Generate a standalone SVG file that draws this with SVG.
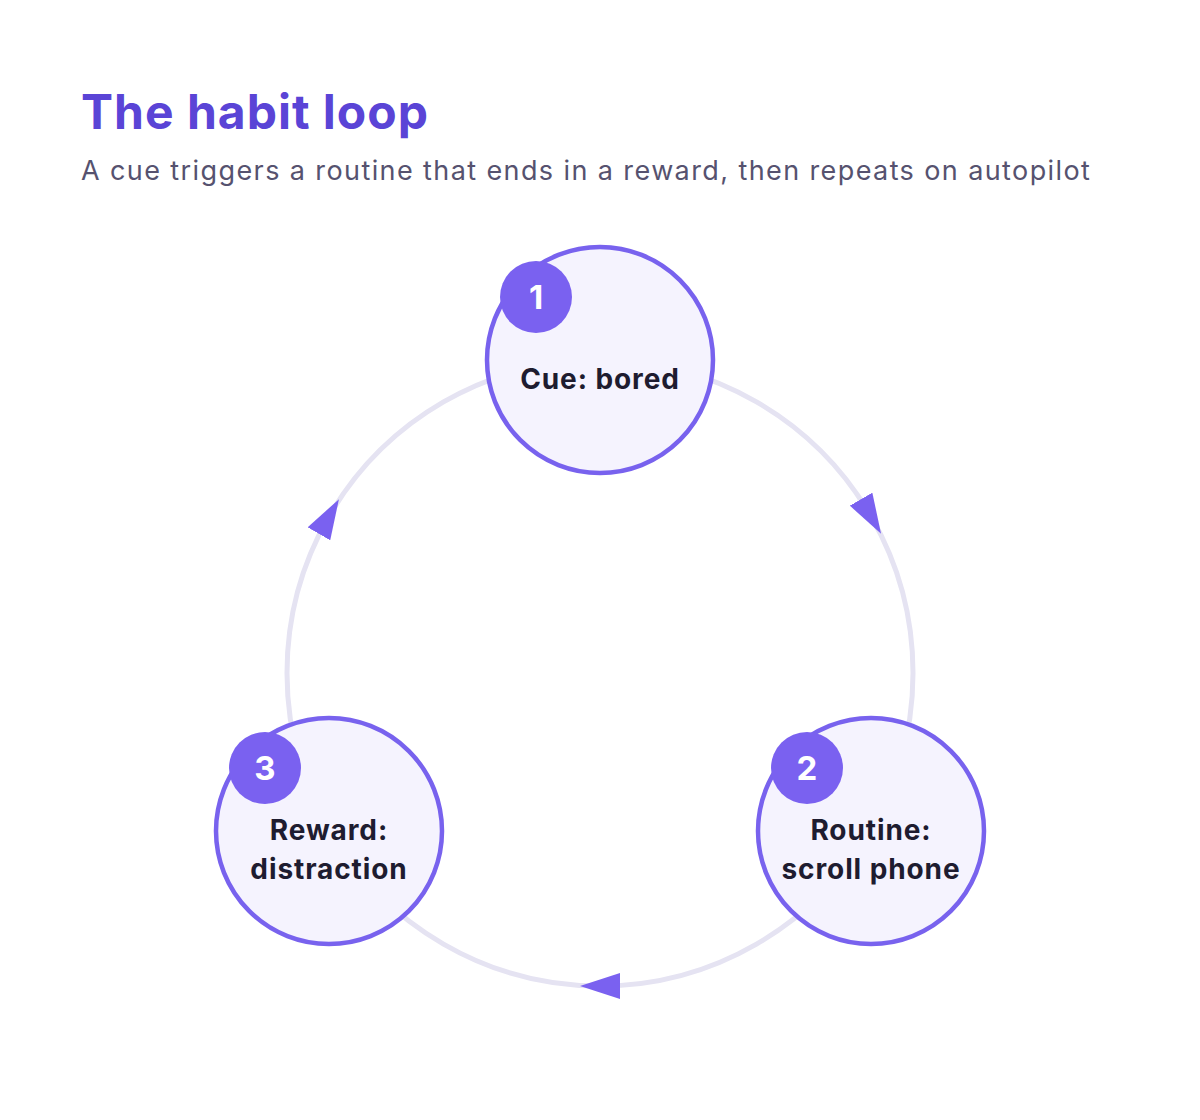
<svg xmlns="http://www.w3.org/2000/svg" width="1200" height="1120" viewBox="0 0 1200 1120">
<style>
.title{font-family:Inter,"Liberation Sans",sans-serif;font-weight:700;font-size:48px;letter-spacing:1px;fill:#5a44d6}
.sub{font-family:Inter,"Liberation Sans",sans-serif;font-weight:400;font-size:27px;letter-spacing:1.4px;fill:#56526f}
.ring{fill:none;stroke:#e5e3f2;stroke-width:5}
.node{fill:#f5f3fe;stroke:#7862ee;stroke-width:4.5}
.badge{fill:#7a61f0}
.num{font-family:Inter,"Liberation Sans",sans-serif;font-weight:700;font-size:33px;fill:#ffffff;text-anchor:middle}
.lbl{font-family:Inter,"Liberation Sans",sans-serif;font-weight:700;font-size:28px;letter-spacing:0.9px;fill:#1e1c30;text-anchor:middle}
</style>
<defs>
<marker id="arr" markerUnits="userSpaceOnUse" viewBox="-20 -13 40 26" markerWidth="40" markerHeight="26" refX="0" refY="0" orient="auto">
<path d="M20,0 L-20,-13 L-20,13 Z" fill="#7a61f0"/>
</marker>
</defs>
<rect width="1200" height="1120" fill="#ffffff"/>
<text class="title" x="81" y="129">The habit loop</text>
<text class="sub" x="81" y="180">A cue triggers a routine that ends in a reward, then repeats on autopilot</text>
<g id="connectors">
<path class="ring" marker-mid="url(#arr)" d="M600,360 A313,313 0 0 1 871.07,516.5 A313,313 0 0 1 871.07,829.5"/>
<path class="ring" marker-mid="url(#arr)" d="M871.07,829.5 A313,313 0 0 1 600,986 A313,313 0 0 1 328.93,829.5"/>
<path class="ring" marker-mid="url(#arr)" d="M328.93,829.5 A313,313 0 0 1 328.93,516.5 A313,313 0 0 1 600,360"/>
</g>
<g id="node-cue">
<circle class="node" cx="600" cy="360" r="113"/>
<circle class="badge" cx="536" cy="297" r="36"/>
<text class="num" x="536" y="309">1</text>
<text class="lbl" x="600" y="389">Cue: bored</text>
</g>
<g id="node-routine">
<circle class="node" cx="871" cy="831" r="113"/>
<circle class="badge" cx="807" cy="768" r="36"/>
<text class="num" x="807" y="780">2</text>
<text class="lbl" x="871" y="840">Routine:</text>
<text class="lbl" x="871" y="879">scroll phone</text>
</g>
<g id="node-reward">
<circle class="node" cx="329" cy="831" r="113"/>
<circle class="badge" cx="265" cy="768" r="36"/>
<text class="num" x="265" y="780">3</text>
<text class="lbl" x="329" y="840">Reward:</text>
<text class="lbl" x="329" y="879">distraction</text>
</g>
</svg>
